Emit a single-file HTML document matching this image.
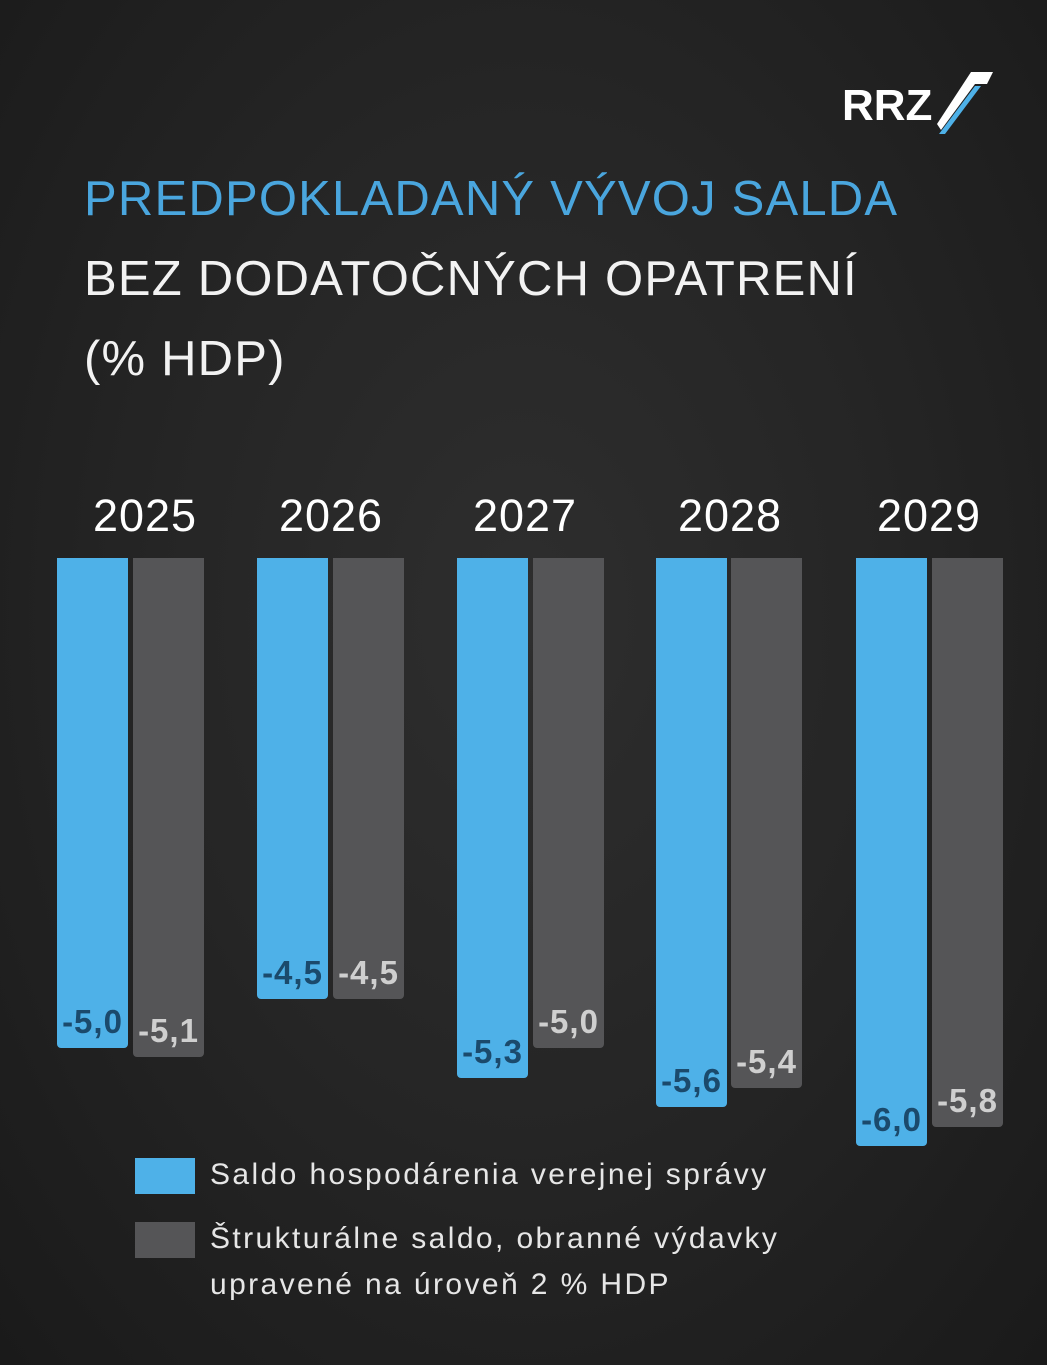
<!DOCTYPE html>
<html><head><meta charset="utf-8"><style>
html,body{margin:0;padding:0}
body{width:1047px;height:1365px;position:relative;overflow:hidden;font-family:"Liberation Sans",sans-serif;
background:radial-gradient(ellipse at 50% 45%,#2e2e2e 0%,#252525 50%,#1a1a1a 100%);}
.t{position:absolute;left:84px;font-size:49px;letter-spacing:1.2px;white-space:nowrap;line-height:1}
.y{position:absolute;top:493px;font-size:45px;color:#fff;width:160px;text-align:center;line-height:1;letter-spacing:1px}
.b{position:absolute;top:558px;width:71px;border-radius:0 0 4px 4px}
.bl{background:#4eb1e8}.gr{background:#555557}
.b span{position:absolute;bottom:10px;left:-6px;width:83px;text-align:center;font-size:33px;font-weight:bold;line-height:1;letter-spacing:1px}
.bl span{color:#1b4a6c}.gr span{color:#cfcfcf}
.lg{position:absolute;left:135px;width:60px;height:36px}
.lt{position:absolute;left:210px;font-size:30px;color:#e6e6e6;line-height:1;white-space:nowrap;letter-spacing:2.4px}
</style></head><body>
<div style="position:absolute;left:842px;top:84px;font-size:44px;font-weight:bold;color:#fff;line-height:1">RRZ</div>
<svg style="position:absolute;left:935px;top:70px" width="60" height="66" viewBox="0 0 60 66">
<polygon points="36,2 58,2 52,14 40,14 6,60 2,54" fill="#fff"/>
<polygon points="40,16 46,16 10,64 4,64" fill="#4eb1e8"/>
</svg>
<div class="t" style="top:175px;color:#4aa6de">PREDPOKLADANÝ VÝVOJ SALDA</div>
<div class="t" style="top:255px;color:#f2f2f2">BEZ DODATOČNÝCH OPATRENÍ</div>
<div class="t" style="top:335px;color:#f2f2f2">(% HDP)</div>
<div class="y" style="left:65px">2025</div>
<div class="y" style="left:251px">2026</div>
<div class="y" style="left:445px">2027</div>
<div class="y" style="left:650px">2028</div>
<div class="y" style="left:849px">2029</div>
<div class="b bl" style="left:57px;height:490px"><span>-5,0</span></div>
<div class="b gr" style="left:133px;height:499px"><span>-5,1</span></div>
<div class="b bl" style="left:257px;height:441px"><span>-4,5</span></div>
<div class="b gr" style="left:333px;height:441px"><span>-4,5</span></div>
<div class="b bl" style="left:457px;height:520px"><span>-5,3</span></div>
<div class="b gr" style="left:533px;height:490px"><span>-5,0</span></div>
<div class="b bl" style="left:656px;height:549px"><span>-5,6</span></div>
<div class="b gr" style="left:731px;height:530px"><span>-5,4</span></div>
<div class="b bl" style="left:856px;height:588px"><span>-6,0</span></div>
<div class="b gr" style="left:932px;height:569px"><span>-5,8</span></div>
<div class="lg bl" style="top:1158px"></div>
<div class="lt" style="top:1160px">Saldo hospodárenia verejnej správy</div>
<div class="lg gr" style="top:1222px"></div>
<div class="lt" style="top:1224px">Štrukturálne saldo, obranné výdavky</div>
<div class="lt" style="top:1270px">upravené na úroveň 2 % HDP</div>
</body></html>
